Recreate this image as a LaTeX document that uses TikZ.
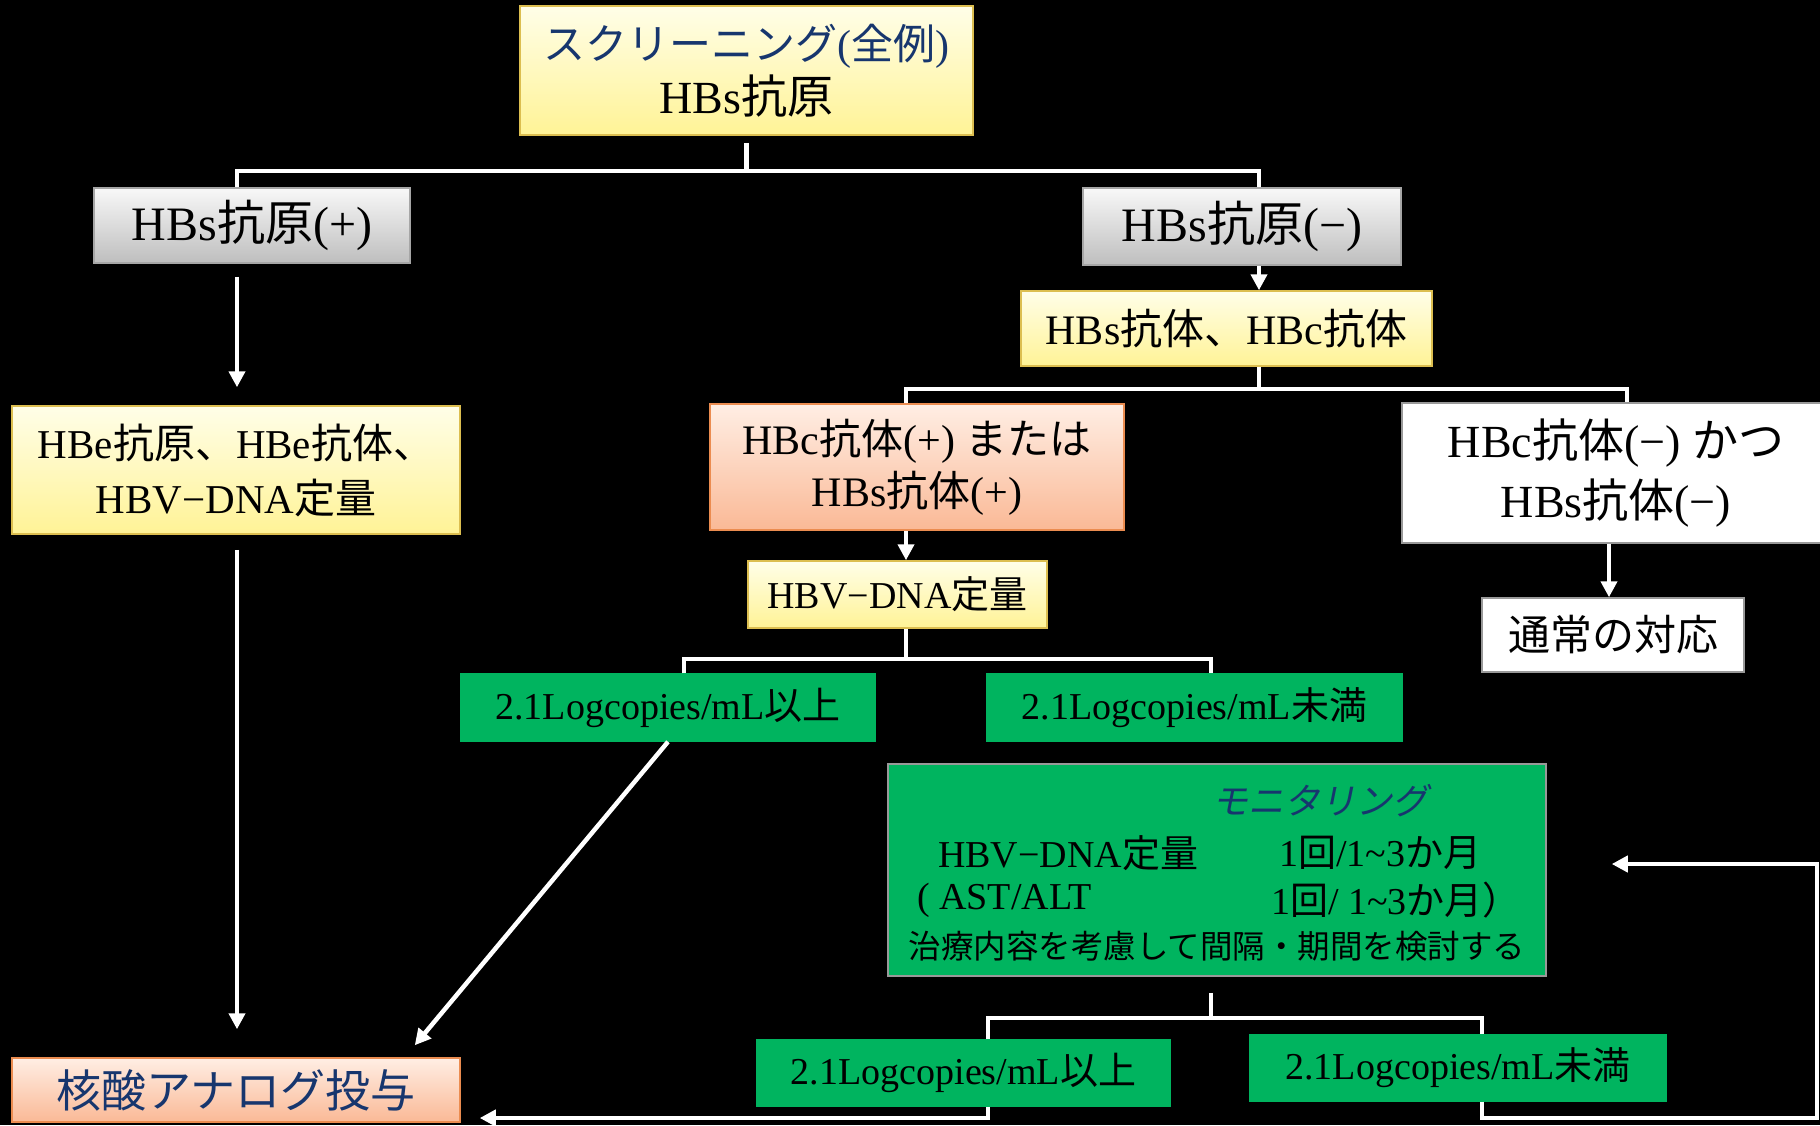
\documentclass[tikz,border=0pt]{standalone}
\usepackage{fontspec}
\setmainfont{Liberation Serif}
\newfontfamily\jp{Noto Sans CJK JP}
\newfontfamily\jpit[FakeSlant=0.2]{Noto Sans CJK JP}
\usetikzlibrary{arrows.meta,calc}
\newcommand\J[1]{{\jp #1}}
\newcommand\fsz[2]{\fontsize{#1}{#2}\selectfont}
\definecolor{navy}{RGB}{23,54,110}
\definecolor{grn}{RGB}{0,180,95}
\definecolor{ylwtop}{RGB}{255,254,232}
\definecolor{ylwbot}{RGB}{255,243,150}
\definecolor{ylwline}{RGB}{220,190,80}
\definecolor{graytop}{RGB}{248,248,248}
\definecolor{graybot}{RGB}{190,190,190}
\definecolor{pchtop}{RGB}{255,238,228}
\definecolor{pchbot}{RGB}{250,185,150}
\definecolor{pchline}{RGB}{235,140,80}
\tikzset{
  basebox/.style={draw, line width=1.5pt, inner sep=0pt, align=center, text=black},
  ybox/.style={basebox, draw=ylwline, top color=ylwtop, bottom color=ylwbot},
  gbox/.style={basebox, draw=gray!70, top color=graytop, bottom color=graybot},
  pbox/.style={basebox, draw=pchline, top color=pchtop, bottom color=pchbot},
  wbox/.style={basebox, draw=gray!80, fill=white},
  grbox/.style={basebox, draw=grn, fill=grn},
  txt/.style={inner sep=0pt, text=black},
  conn/.style={draw=white, line width=4.5pt},
  arr/.style={conn, -{Triangle[width=16pt,length=16pt]}}
}
\begin{document}
\begin{tikzpicture}[x=1pt,y=-1pt]
\fill[black] (0,0) rectangle (1820,1125);
\useasboundingbox (0,0) rectangle (1820,1125);

% boxes
\node[ybox, minimum width=453pt, minimum height=129pt, font=\fsz{42}{54}] (top) at (746.5,70.5)
  {\textcolor{navy}{\J{スクリーニング}(\J{全例})}\\{\fsz{46}{54}HBs\J{抗原}}};
\node[gbox, minimum width=316pt, minimum height=75pt, font=\fsz{48}{50}] (hbsp) at (252,225.5)
  {HBs\J{抗原}(+)};
\node[gbox, minimum width=318pt, minimum height=77pt, font=\fsz{48}{50}] (hbsm) at (1242,226.5)
  {HBs\J{抗原}(−)};
\node[ybox, minimum width=411pt, minimum height=75pt, font=\fsz{42}{50}] (abs) at (1226.5,328.5)
  {HBs\J{抗体、}HBc\J{抗体}};
\node[ybox, minimum width=448pt, minimum height=128pt, font=\fsz{41}{55}] (hbe) at (236,470)
  {HBe\J{抗原、}HBe\J{抗体、}\\HBV−DNA\J{定量}};
\node[pbox, minimum width=414pt, minimum height=126pt, font=\fsz{42}{52}] (hbcp) at (917,467)
  {HBc\J{抗体}(+) \J{または}\\HBs\J{抗体}(+)};
\node[wbox, minimum width=428pt, minimum height=140pt, font=\fsz{46}{60}] (hbcm) at (1616,473)
  {HBc\J{抗体}(−) \J{かつ}\\HBs\J{抗体}(−)};
\node[wbox, minimum width=262pt, minimum height=74pt, font=\fsz{42}{50}] (tsujo) at (1613,635)
  {\J{通常の対応}};
\node[ybox, minimum width=299pt, minimum height=67pt, font=\fsz{38}{46}] (dna) at (897.5,594.5)
  {HBV−DNA\J{定量}};
\node[grbox, minimum width=414pt, minimum height=67pt, font=\fsz{38}{46}] (g1) at (668,707.5)
  {2.1Logcopies/mL\J{以上}};
\node[grbox, minimum width=415pt, minimum height=67pt, font=\fsz{38}{46}] (g2) at (1194.5,707.5)
  {2.1Logcopies/mL\J{未満}};
\node[grbox, draw=gray!80, minimum width=658pt, minimum height=212pt] (mon) at (1217,870) {};
\node[txt, text=navy, font=\fsz{36}{40}] (mt) at (1320,801) {\jpit モニタリング};
\node[txt, anchor=west, font=\fsz{38}{40}] (m2a) at (938,853) {HBV−DNA\J{定量}};
\node[txt, anchor=west, font=\fsz{38}{40}] (m2b) at (1279,853) {1\J{回}/1\textasciitilde 3\J{か月}};
\node[txt, anchor=west, font=\fsz{38}{40}] (m3a) at (917,900) {( AST/ALT};
\node[txt, anchor=west, font=\fsz{38}{40}] (m3b) at (1271,900) {1\J{回}/ 1\textasciitilde 3\J{か月）}};
\node[txt, font=\fsz{32.5}{40}] (m4) at (1217,946) {\J{治療内容を考慮して間隔・期間を検討する}};
\node[grbox, minimum width=413pt, minimum height=66pt, font=\fsz{38}{46}] (g3) at (963.5,1073)
  {2.1Logcopies/mL\J{以上}};
\node[grbox, minimum width=416pt, minimum height=66pt, font=\fsz{38}{46}] (g4) at (1458,1068)
  {2.1Logcopies/mL\J{未満}};
\node[pbox, minimum width=448pt, minimum height=64pt, font=\fsz{45}{50}] (nuc) at (236,1090)
  {\textcolor{navy}{\J{核酸アナログ投与}}};

% junction coordinates
\coordinate (a1) at (237,171);
\coordinate (a2) at (1259,171);
\coordinate (c1) at (906,389);
\coordinate (c2) at (1627,389);
\coordinate (d1) at (684,659);
\coordinate (d2) at (1211,659);
\coordinate (e1) at (1609,0);
\coordinate (f1) at (988,1018);
\coordinate (f2) at (1482,1018);
\coordinate (h1) at (988,1118);
\coordinate (h2) at (1817,1118);
\coordinate (h3) at (1817,864);

% connectors
\draw[conn] ($(top.south)+(0,7)$) -- (top.south|-a1);
\draw[conn] (hbsp.north-|a1) -- (a1) -- (a2) -- (hbsm.north-|a2);
\draw[arr] ($(hbsp.south-|a1)+(0,13)$) -- ($(hbe.north-|a1)+(0,-18)$);
\draw[arr] ($(hbe.south-|a1)+(0,15)$) -- ($(nuc.north-|a1)+(0,-28)$);
\draw[arr] (hbsm.south-|a2) -- (abs.north-|a2);
\draw[conn] (abs.south-|a2) -- (a2|-c1);
\draw[conn] (hbcp.north-|c1) -- (c1) -- (c2) -- (hbcm.north-|c2);
\draw[arr] (hbcp.south-|c1) -- (dna.north-|c1);
\draw[arr] (hbcm.south-|e1) -- (tsujo.north-|e1);
\draw[conn] (dna.south-|c1) -- (c1|-d1);
\draw[conn] (g1.north-|d1) -- (d1) -- (d2) -- (g2.north-|d2);
\draw[arr] (g1.south) -- ($(nuc.north east)+(-46,-12)$);
\draw[conn] ($(mon.south-|d2)+(0,16)$) -- (d2|-f1);
\draw[conn] (g3.north-|f1) -- (f1) -- (f2) -- (g4.north-|f2);
\draw[arr] (g3.south-|h1) -- (h1) -- ($(nuc.east|-h1)+(19,0)$);
\draw[arr] (g4.south-|f2) -- (f2|-h1) -- (h2) -- (h3) -- ($(mon.east|-h3)+(65,0)$);
\end{tikzpicture}
\end{document}
